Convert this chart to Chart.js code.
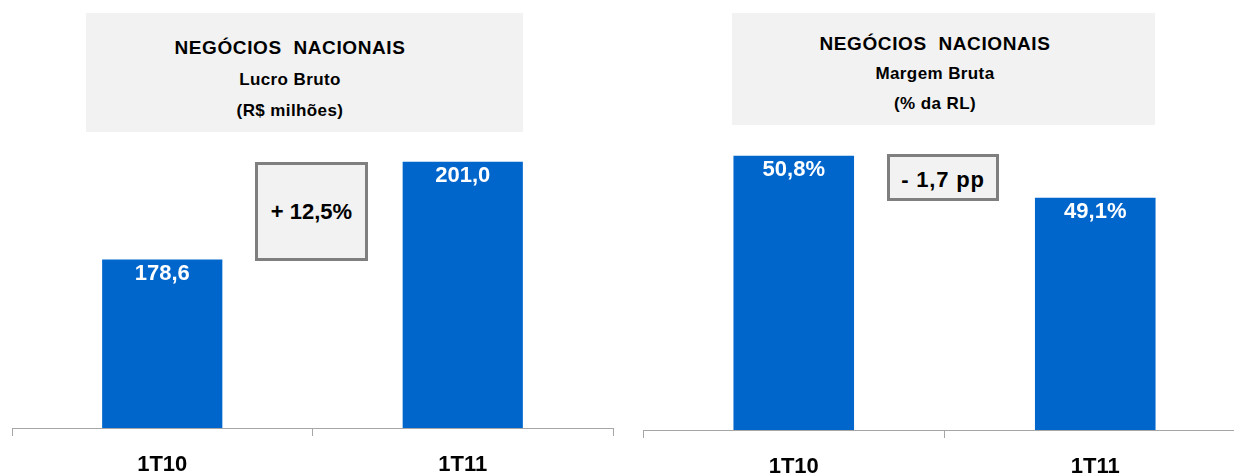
<!DOCTYPE html>
<html>
<head>
<meta charset="utf-8">
<script src="https://cdn.jsdelivr.net/npm/chart.js@4"></script>
<style>
  html, body { margin:0; padding:0; background:#fff; width:1234px; height:473px; overflow:hidden; position:relative; font-family:"Liberation Sans", Arial, sans-serif; }
  canvas { position:absolute; top:0; }
  .box { position:absolute; background:#f2f2f2; }
  .line { position:absolute; text-align:center; font-weight:bold; color:#000; white-space:pre; }
  .chg { position:absolute; box-sizing:border-box; background:#f2f2f2; border:3px solid #7f7f7f; display:flex; align-items:center; justify-content:center; font-weight:bold; color:#000; }
</style>
</head>
<body>
<div class="box" style="left:86px;top:13px;width:437px;height:119px;"></div>
<div class="box" style="left:732px;top:13px;width:423px;height:112px;"></div>

<div class="line" style="left:90px;width:400px;top:37px;height:22px;line-height:22px;font-size:19px;letter-spacing:0.6px;">NEGÓCIOS  NACIONAIS</div>
<div class="line" style="left:90px;width:400px;top:70px;height:20px;line-height:20px;font-size:17px;letter-spacing:0.4px;">Lucro Bruto</div>
<div class="line" style="left:90px;width:400px;top:101px;height:20px;line-height:20px;font-size:17px;letter-spacing:0.4px;">(R$ milhões)</div>

<div class="line" style="left:735px;width:400px;top:33px;height:22px;line-height:22px;font-size:19px;letter-spacing:0.6px;">NEGÓCIOS  NACIONAIS</div>
<div class="line" style="left:735px;width:400px;top:64px;height:20px;line-height:20px;font-size:17px;letter-spacing:0.4px;">Margem Bruta</div>
<div class="line" style="left:735px;width:400px;top:94px;height:20px;line-height:20px;font-size:17px;letter-spacing:0.4px;">(% da RL)</div>

<canvas id="c1" width="620" height="500" style="left:0px;"></canvas>
<canvas id="c2" width="630" height="500" style="left:620px;"></canvas>

<div class="chg" style="left:255px;top:162px;width:113px;height:99px;font-size:22px;">+ 12,5%</div>
<div class="chg" style="left:887px;top:154px;width:112px;height:47px;font-size:22px;letter-spacing:0.8px;padding-top:4px;">- 1,7 pp</div>

<script>
const categories = ['1T10', '1T11'];
const lucroBruto = [178.6, 201.0];
const margemBruta = [50.8, 49.1];

const fmt = (v, suffix) => v.toFixed(1).replace('.', ',') + suffix;
const FONT = '"Liberation Sans", Arial, sans-serif';

const valueLabels = {
  id: 'valueLabels',
  afterDatasetsDraw(chart, args, opts) {
    const ctx = chart.ctx;
    const ds = chart.data.datasets[0];
    const meta = chart.getDatasetMeta(0);
    ctx.save();
    ctx.fillStyle = '#ffffff';
    ctx.font = 'bold 22px ' + FONT;
    ctx.textAlign = 'center';
    ctx.textBaseline = 'middle';
    meta.data.forEach((bar, i) => {
      ctx.fillText(fmt(ds.data[i], opts.suffix || ''), bar.x, bar.y + 14);
    });
    ctx.restore();
  }
};

function makeChart(id, values, yMin, yMax, padLeft, padRight, axisHeight, suffix) {
  return new Chart(document.getElementById(id), {
    type: 'bar',
    data: {
      labels: categories,
      datasets: [{
        data: values,
        backgroundColor: '#0066CC',
        borderWidth: 0,
        barPercentage: 0.4,
        categoryPercentage: 1.0
      }]
    },
    options: {
      responsive: false,
      animation: false,
      devicePixelRatio: 1,
      layout: { padding: { top: 140, left: padLeft, right: padRight, bottom: 0 } },
      plugins: {
        legend: { display: false },
        tooltip: { enabled: false },
        valueLabels: { suffix: suffix }
      },
      scales: {
        x: {
          offset: true,
          grid: { display: true, drawOnChartArea: false, drawTicks: true, tickLength: 8, color: '#a6a6a6', offset: true },
          border: { display: true, color: '#a6a6a6', width: 1 },
          ticks: { color: '#000000', font: { family: FONT, size: 22, weight: 'bold' }, padding: 16 },
          afterFit: (s) => { s.height = axisHeight; }
        },
        y: { display: false, min: yMin, max: yMax }
      }
    },
    plugins: [valueLabels]
  });
}

makeChart('c1', lucroBruto, 140, 206, 12, 7, 72, '');
makeChart('c2', margemBruta, 39.7, 51.44, 23, 4, 70, '%');
</script>
</body>
</html>
